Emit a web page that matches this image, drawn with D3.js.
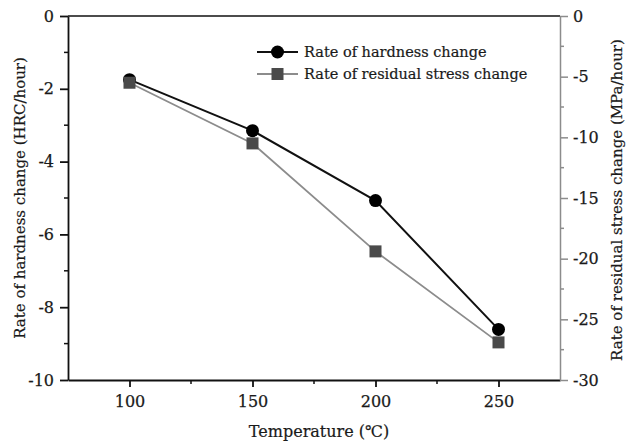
<!DOCTYPE html>
<html>
<head>
<meta charset="utf-8">
<script src="https://cdn.jsdelivr.net/npm/d3@7/dist/d3.min.js"></script>
<style>
  html, body { margin: 0; padding: 0; background: #fff; }
  svg { display: block; }
  text { font-family: "DejaVu Serif", "Liberation Serif", serif; fill: #1a1a1a; }
</style>
</head>
<body>
<svg id="chart" width="628" height="446"></svg>
<script>
// Temperatures (°C) and the two measured rates
const temperatures = [100, 150, 200, 250];
const hardnessRate = [-1.75, -3.15, -5.07, -8.61];      // HRC/hour, left axis
const stressRate = [-5.5, -10.5, -19.4, -26.9];        // MPa/hour, right axis
const xTicks = [100, 150, 200, 250];
const leftTicks = [0, -2, -4, -6, -8, -10];
const rightTicks = [0, -5, -10, -15, -20, -25, -30];
const seriesNames = ["Rate of hardness change", "Rate of residual stress change"];

const svg = d3.select("#chart");
const m = { left: 68, right: 560, top: 16, bottom: 380 };

const x = d3.scaleLinear().domain([75, 275]).range([m.left, m.right]);
const yL = d3.scaleLinear().domain([-10, 0]).range([m.bottom, m.top]);
const yR = d3.scaleLinear().domain([-30, 0]).range([m.bottom, m.top]);

const black = "#111";
const grey = "#8c8c8c";
const squareFill = "#4a4a4a";

// top frame line
svg.append("line")
  .attr("x1", m.left).attr("x2", m.right)
  .attr("y1", m.top).attr("y2", m.top)
  .attr("stroke", black).attr("stroke-width", 1.5);

// minor ticks
function minor(g, scale, vals, orient, color) {
  vals.forEach(v => {
    const p = scale(v);
    if (orient === "bottom") g.append("line").attr("x1", p).attr("x2", p).attr("y1", 0).attr("y2", 4).attr("stroke", color).attr("stroke-width", 1.5);
    if (orient === "left") g.append("line").attr("y1", p).attr("y2", p).attr("x1", 0).attr("x2", -4).attr("stroke", color).attr("stroke-width", 1.5);
    if (orient === "right") g.append("line").attr("y1", p).attr("y2", p).attr("x1", 0).attr("x2", 4).attr("stroke", color).attr("stroke-width", 1.5);
  });
}

// bottom axis
const gx = svg.append("g").attr("transform", `translate(0,${m.bottom})`)
  .call(d3.axisBottom(x).tickValues(xTicks).tickSize(7).tickSizeOuter(0).tickPadding(9));
minor(gx, x, [125, 175, 225], "bottom", black);

// left axis
const gl = svg.append("g").attr("transform", `translate(${m.left},0)`)
  .call(d3.axisLeft(yL).tickValues(leftTicks).tickSize(8).tickSizeOuter(0).tickPadding(6));
minor(gl, yL, [-1, -3, -5, -7, -9], "left", black);

// right axis
const gr = svg.append("g").attr("transform", `translate(${m.right},0)`)
  .call(d3.axisRight(yR).tickValues(rightTicks).tickSize(8).tickSizeOuter(0).tickPadding(5));
minor(gr, yR, [-2.5, -7.5, -12.5, -17.5, -22.5, -27.5], "right", grey);

[gx, gl].forEach(g => {
  g.selectAll(".domain, .tick line").attr("stroke", black).attr("stroke-width", 1.8);
});
gr.selectAll(".domain, .tick line").attr("stroke", grey).attr("stroke-width", 1.5);
[gx, gl, gr].forEach(g => {
  g.selectAll(".tick text").attr("font-size", 16).attr("fill", "#1a1a1a")
    .attr("stroke", "#1a1a1a").attr("stroke-width", 0.25)
    .attr("font-family", "DejaVu Serif, Liberation Serif, serif");
});
gl.selectAll(".tick text").text(d => d === 0 ? "0" : d3.format("d")(d).replace("−", "-"));
gr.selectAll(".tick text").text(d => d === 0 ? "0" : d3.format("d")(d).replace("−", "-"));

// axis titles
const titleStyle = t => t.attr("stroke", "#1a1a1a").attr("stroke-width", 0.2);
svg.append("text")
  .attr("x", (m.left + m.right) / 2 + 5).attr("y", 437)
  .attr("text-anchor", "middle").attr("font-size", 16)
  .call(titleStyle)
  .text("Temperature (℃)");

svg.append("text")
  .attr("transform", `translate(25,${(m.top + m.bottom) / 2}) rotate(-90)`)
  .attr("text-anchor", "middle").attr("font-size", 15)
  .call(titleStyle)
  .text("Rate of hardness change (HRC/hour)");

svg.append("text")
  .attr("transform", `translate(622,${(m.top + m.bottom) / 2 + 2}) rotate(-90)`)
  .attr("text-anchor", "middle").attr("font-size", 15)
  .call(titleStyle)
  .text("Rate of residual stress change (MPa/hour)");

// series: residual stress (grey line, dark squares)
const stressLine = d3.line().x((d, i) => x(temperatures[i])).y(d => yR(d));
svg.append("path").datum(stressRate)
  .attr("d", stressLine).attr("fill", "none")
  .attr("stroke", grey).attr("stroke-width", 1.8);

// series: hardness (black line, black circles)
const hardLine = d3.line().x((d, i) => x(temperatures[i])).y(d => yL(d));
svg.append("path").datum(hardnessRate)
  .attr("d", hardLine).attr("fill", "none")
  .attr("stroke", black).attr("stroke-width", 2);

svg.selectAll("circle.h").data(hardnessRate).join("circle")
  .attr("class", "h")
  .attr("cx", (d, i) => x(temperatures[i])).attr("cy", d => yL(d))
  .attr("r", 6.5).attr("fill", "#000");

const sq = 12;
svg.selectAll("rect.s").data(stressRate).join("rect")
  .attr("class", "s")
  .attr("x", (d, i) => x(temperatures[i]) - sq / 2).attr("y", d => yR(d) - sq / 2)
  .attr("width", sq).attr("height", sq).attr("fill", squareFill);

// legend
const legend = svg.append("g");
const lx0 = 257, lx1 = 298, ly = [52, 74];
legend.append("line").attr("x1", lx0).attr("x2", lx1).attr("y1", ly[0]).attr("y2", ly[0])
  .attr("stroke", black).attr("stroke-width", 2);
legend.append("circle").attr("cx", (lx0 + lx1) / 2).attr("cy", ly[0]).attr("r", 6.5).attr("fill", "#000");
legend.append("line").attr("x1", lx0).attr("x2", lx1).attr("y1", ly[1]).attr("y2", ly[1])
  .attr("stroke", grey).attr("stroke-width", 1.8);
legend.append("rect").attr("x", (lx0 + lx1) / 2 - sq / 2).attr("y", ly[1] - sq / 2)
  .attr("width", sq).attr("height", sq).attr("fill", squareFill);
seriesNames.forEach((n, i) => {
  legend.append("text").attr("x", 304).attr("y", ly[i]).attr("dy", "0.35em")
    .attr("font-size", 14.5).call(titleStyle).text(n);
});
</script>
</body>
</html>
